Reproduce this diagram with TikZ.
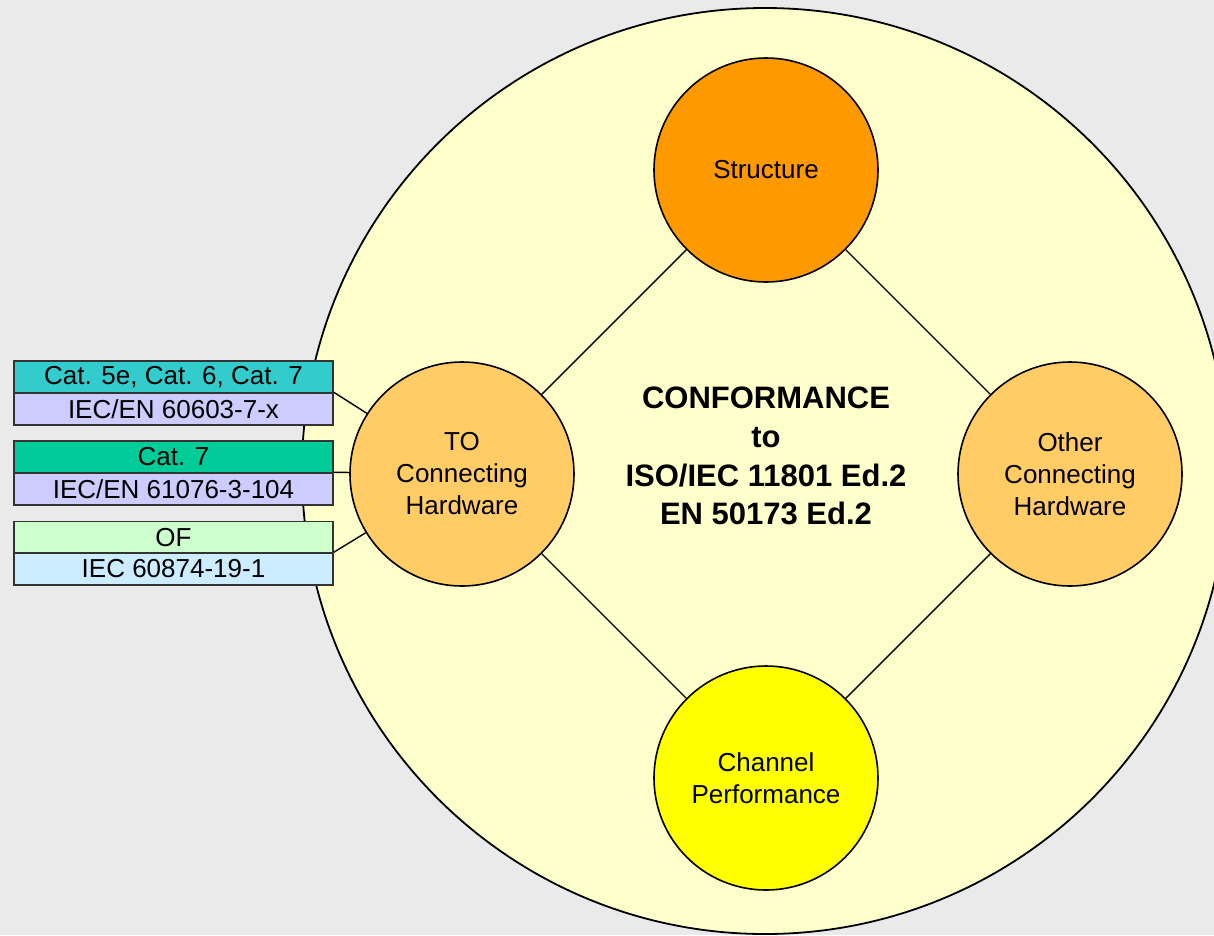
\documentclass[tikz,border=0pt]{standalone}
\usepackage{fontspec}
\setmainfont{Liberation Sans}
\definecolor{bgc}{HTML}{EAEAEA}
\definecolor{bigc}{HTML}{FFFFCC}
\definecolor{structc}{HTML}{FF9900}
\definecolor{hwc}{HTML}{FFCC66}
\definecolor{chanc}{HTML}{FFFF00}
\definecolor{tealc}{HTML}{33CCCC}
\definecolor{lavc}{HTML}{CCCCFF}
\definecolor{greenc}{HTML}{00CC99}
\definecolor{lgreenc}{HTML}{CCFFCC}
\definecolor{lbluec}{HTML}{CCECFF}
\begin{document}
\begin{tikzpicture}[x=1pt,y=-1pt,
  lbl/.style={font=\fontsize{26}{32}\selectfont, align=center},
  smallcirc/.style={circle, draw=black, line width=1.6pt, minimum size=224pt, inner sep=0pt, lbl},
  stdbox/.style={rectangle, draw=black!80, line width=1.5pt, minimum width=319pt, minimum height=32pt, inner sep=0pt, lbl},
  link/.style={draw=black, line width=1.4pt}]
\useasboundingbox (0,0) rectangle (1214,935);
\fill[bgc] (0,0) rectangle (1214,935);
\node[circle, draw=black, fill=bigc, line width=1.8pt, minimum size=926pt, inner sep=0pt] (big) at (765,471) {};
\node[lbl, font=\fontsize{31}{38.7}\selectfont\bfseries] (conf) at (766,456) {CONFORMANCE\\to\\ISO/IEC 11801 Ed.2\\EN 50173 Ed.2};
\node[smallcirc, fill=structc] (S) at (766,170) {Structure};
\node[smallcirc, fill=hwc] (TO) at (462,474) {TO\\Connecting\\Hardware};
\node[smallcirc, fill=hwc] (OH) at (1070,474) {Other\\Connecting\\Hardware};
\node[smallcirc, fill=chanc] (CP) at (766,778) {Channel\\Performance};
\draw[link] (S) -- (TO);
\draw[link] (S) -- (OH);
\draw[link] (TO) -- (CP);
\draw[link] (OH) -- (CP);
\node[stdbox, fill=tealc] (b1a) at (173.5,377) {Cat. 5e, Cat. 6, Cat. 7};
\node[stdbox, fill=lavc] (b1b) at (173.5,409) {IEC/EN 60603-7-x};
\node[stdbox, fill=greenc] (b2a) at (173.5,457) {Cat. 7};
\node[stdbox, fill=lavc] (b2b) at (173.5,489) {IEC/EN 61076-3-104};
\node[stdbox, fill=lgreenc] (b3a) at (173.5,537.5) {OF};
\node[stdbox, fill=lbluec] (b3b) at (173.5,569) {IEC 60874-19-1};
\draw[link] (b1b.north east) -- (TO);
\draw[link] (b2b.north east) -- (TO);
\draw[link] (b3b.north east) -- (TO);
\end{tikzpicture}
\end{document}
